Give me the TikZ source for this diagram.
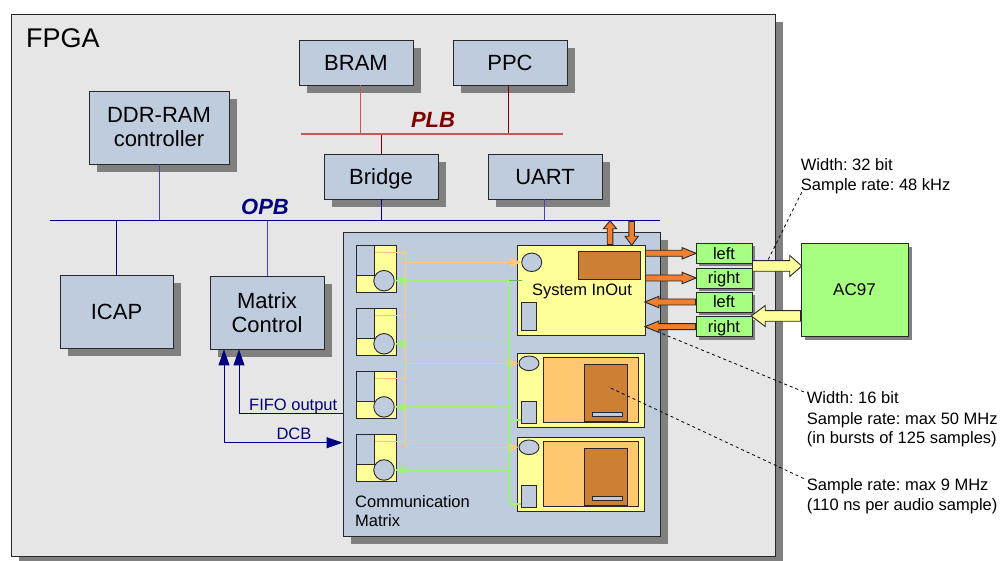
\documentclass[tikz,border=0pt]{standalone}
\usepackage{fontspec}
\setmainfont{Liberation Sans}
\usetikzlibrary{arrows.meta,shadows,calc,shapes.geometric}

\definecolor{fpgagray}{RGB}{230,230,230}
\definecolor{shadowgray}{RGB}{128,128,128}
\definecolor{boxblue}{RGB}{191,204,221}
\definecolor{edgegray}{RGB}{40,40,40}
\definecolor{paleyellow}{RGB}{255,255,153}
\definecolor{lightorange}{RGB}{255,200,112}
\definecolor{darkorange}{RGB}{205,128,52}
\definecolor{arroworange}{RGB}{240,128,48}
\definecolor{limegreen}{RGB}{166,255,128}
\definecolor{linegreen}{RGB}{160,240,128}
\definecolor{stubgreen}{RGB}{100,190,80}
\definecolor{lineorange}{RGB}{255,200,128}
\definecolor{opbnavy}{RGB}{0,0,128}
\definecolor{opbconn}{RGB}{70,70,170}
\definecolor{plbred}{RGB}{192,90,90}
\definecolor{plbdark}{RGB}{128,0,0}

% fat outlined arrow: style, tail point, angle, length, half shaft, half head, head length
\newcommand\fatarrow[7]{%
  \begin{scope}[shift={#2},rotate=#3]
    \draw[#1] (0,-#5) -- ({#4-#7},-#5) -- ({#4-#7},-#6) -- (#4,0) -- ({#4-#7},#6) -- ({#4-#7},#5) -- (0,#5) -- cycle;
  \end{scope}}

\frenchspacing
\begin{document}
\begin{tikzpicture}[x=1pt,y=-1pt,
  shd/.style={drop shadow={shadow xshift=#1pt,shadow yshift=-#1pt,fill=shadowgray,opacity=1}},
  fpgabox/.style={draw=edgegray,line width=0.9,fill=fpgagray,inner sep=0,shd=8},
  blk/.style={draw=edgegray,line width=0.9,fill=boxblue,inner sep=0,align=center,font=\fontsize{22}{24}\selectfont,shd=8},
  blkone/.style={blk,text height=15.8,text depth=0},
  yel/.style={draw=edgegray,line width=0.9,fill=paleyellow,inner sep=0},
  lor/.style={draw=edgegray,line width=0.9,fill=lightorange,inner sep=0},
  dor/.style={draw=edgegray,line width=0.9,fill=darkorange,inner sep=0},
  bbox/.style={draw=edgegray,line width=0.9,fill=boxblue,inner sep=0},
  lr/.style={draw=edgegray,line width=0.9,fill=limegreen,inner sep=0,minimum width=56,minimum height=20,font=\fontsize{16.5}{20}\selectfont,text height=12,text depth=0,shd=3},
  smalltxt/.style={font=\fontsize{16.5}{20}\selectfont,inner sep=0},
  dashline/.style={draw=black,line width=0.8,dash pattern=on 3pt off 3pt},
  orline/.style={draw=lineorange,line width=1.3},
  grline/.style={draw=linegreen,line width=1.3},
  orangearr/.style={orline,-{Triangle[length=11pt,width=9.5pt]}},
  greenarr/.style={grline,-{Triangle[length=10.5pt,width=9pt]}},
  navyline/.style={draw=opbnavy,line width=1},
  yelarrow/.style={draw=edgegray,line width=0.9,fill=paleyellow},
  orarrow/.style={draw=edgegray,line width=0.9,fill=arroworange},
  plbconn/.style={draw=plbred,line width=1},
  opbc/.style={draw=opbconn,line width=1}
]
\useasboundingbox (0,0) rectangle (1005,561);

% FPGA container
\node[fpgabox,minimum width=764,minimum height=542] (fpga) at (393,285) {};
\node[anchor=base west,inner sep=0,font=\fontsize{27}{30}\selectfont] (fpgalbl) at (26,47.5) {FPGA};

% blocks
\node[blkone,minimum width=114,minimum height=45] (bram) at (356,62.5) {BRAM};
\node[blkone,minimum width=114,minimum height=45] (ppc) at (510,62.5) {PPC};
\node[blkone,minimum width=114,minimum height=45] (bridge) at (381,176.5) {Bridge};
\node[blkone,minimum width=114,minimum height=45] (uart) at (545,176.5) {UART};
\node[blk,minimum width=140,minimum height=73] (ddr) at (159,127.5) {DDR-RAM\\controller};
\node[blkone,minimum width=113,minimum height=73] (icap) at (116.5,311.5) {ICAP};
\node[blk,minimum width=114,minimum height=73] (mctrl) at (267,312.5) {Matrix\\Control};

% PLB bus
\coordinate (plbL) at (301,134);
\coordinate (plbR) at (563,134);
\draw[plbconn] ([xshift=4pt]bram.south) -- ([xshift=4pt]bram.south |- plbL);
\draw[draw=plbdark,line width=1] ([xshift=-2pt]ppc.south) -- ([xshift=-2pt]ppc.south |- plbL);
\draw[draw=plbdark,line width=1] (bridge.north) -- (bridge.north |- plbL);
\draw[draw=plbred,line width=1.3] (plbL) -- (plbR);
\node[anchor=base,inner sep=0,text=plbdark,font=\fontsize{22}{24}\selectfont\bfseries\itshape] (plb) at (433,127.5) {PLB};

% OPB bus
\coordinate (opbL) at (50,220.5);
\coordinate (opbR) at (660,220.5);
\draw[opbc] (ddr.south) -- (ddr.south |- opbL);
\draw[draw=opbnavy,line width=1] (bridge.south) -- (bridge.south |- opbL);
\draw[opbc] ([xshift=-1pt]uart.south) -- ([xshift=-1pt]uart.south |- opbL);
\draw[draw=opbnavy,line width=1] (icap.north) -- (icap.north |- opbL);
\draw[opbc] (mctrl.north) -- (mctrl.north |- opbL);
\draw[draw=opbnavy,line width=1.3] (opbL) -- (opbR);
\node[anchor=base,inner sep=0,text=opbnavy,font=\fontsize{22}{24}\selectfont\bfseries\itshape] (opb) at (265,215) {OPB};

% Communication matrix
\node[blk,minimum width=317,minimum height=304] (comm) at (501.5,384) {};
\node[smalltxt,anchor=base west,align=left,font=\fontsize{16.5}{19.4}\selectfont] (commlbl) at (355,526.7) {Communication\\Matrix};

% System InOut
\node[yel,minimum width=128,minimum height=90] (sysio) at (581,290) {};
\node[ellipse,draw=edgegray,line width=0.9,fill=boxblue,minimum width=20,minimum height=18.5,inner sep=0] (sysc) at (531.7,262.3) {};
\node[dor,minimum width=61.3,minimum height=27.6] (sysor) at (609.35,265.5) {};
\node[bbox,minimum width=15,minimum height=28] (sysb) at (529.2,316.7) {};
\node[smalltxt,anchor=base] (sysiolbl) at (582,296) {System InOut};

% processing units
\foreach \i/\t in {1/352.7,2/436.7}{
  \node[yel,anchor=north west,minimum width=127,minimum height=74] (pu\i) at (517.3,\t) {};
  \node[lor,anchor=north west,minimum width=95,minimum height=65.6] (pul\i) at (543.3,\t+4) {};
  \node[dor,anchor=north west,minimum width=43.3,minimum height=57] (pud\i) at (584,\t+11.6) {};
  \node[bbox,anchor=north west,minimum width=30,minimum height=4] (pubar\i) at (592.3,\t+59.3) {};
  \node[ellipse,draw=edgegray,line width=0.9,fill=boxblue,minimum width=20,minimum height=14.6,inner sep=0] (pue\i) at (529,\t+10.6) {};
  \node[bbox,anchor=north west,minimum width=15,minimum height=22] (pub\i) at (520.7,\t+48) {};
}

% FIFO units
\coordinate (obus) at (405.7,0);
\coordinate (gbus) at (509,0);
\foreach \i/\t in {1/244.7,2/307.8,3/370.9,4/434.0}{
  \node[yel,anchor=north west,minimum width=40,minimum height=47.3] (u\i) at (355.7,\t) {};
  \node[bbox,anchor=north west,minimum width=18.6,minimum height=30.3] (ub\i) at (355.7,\t) {};
  \node[circle,draw=edgegray,line width=0.9,fill=boxblue,minimum size=20.5,inner sep=0] (uc\i) at (384,\t+36) {};
  \coordinate (uo\i) at ($(ub\i.north east)+(0,7.6)$);
  \draw[orline] (uo\i) -- (uo\i -| obus);
}

% orange (data in) bus
\draw[orline] (obus |- uo1) -- (obus |- pue2);
\draw[orangearr] (obus |- sysc) -- (sysc.west);
\draw[orangearr] (obus |- pue1) -- (pue1.west);
\draw[orangearr] (obus |- pue2) -- (pue2.west);

% green (data out) bus
\coordinate (gstart) at (521.7,280.7);
\coordinate (g1) at ($(pub1.south west)+(0,-3.7)$);
\coordinate (g2) at ($(pub2.south west)+(0,-3.7)$);
\draw[grline] (gbus |- gstart) -- (gbus |- g2);
\draw[greenarr] (gstart |- uc1) -- (uc1.east);
\draw[draw=stubgreen,line width=1.5] (gbus |- gstart) -- (gstart);
\foreach \i in {2,3,4}{
  \draw[greenarr] (gbus |- uc\i) -- (uc\i.east);
}
\draw[grline] (gbus |- g1) -- (g1);
\draw[grline] (gbus |- g2) -- (g2);

% FIFO output / DCB
\coordinate (fifo) at (239,414);
\coordinate (dcb) at (224,442.7);
\draw[navyline,-{Triangle[length=16pt,width=11pt]}] (comm.west |- fifo) -| (fifo |- mctrl.south);
\draw[navyline,{Triangle[length=16pt,width=11pt]}-{Triangle[length=16pt,width=11pt]}] (dcb |- mctrl.south) |- (comm.west |- dcb);
\node[smalltxt,text=opbnavy,anchor=base west] (fifolbl) at (249,410.5) {FIFO output};
\node[smalltxt,text=opbnavy,anchor=base] (dcblbl) at (294,439) {DCB};

% AC97 and channel boxes
\node[draw=edgegray,line width=0.9,fill=limegreen,minimum width=107,minimum height=93,inner sep=0,shd=4,font=\fontsize{17}{20}\selectfont,text height=12.2,text depth=0] (ac97) at (854.5,289.5) {AC97};
\node[lr] (lo1) at (724,253.3) {left};
\node[lr] (ro1) at (724,278) {right};
\node[lr] (li1) at (724,302) {left};
\node[lr] (ri1) at (724,326.7) {right};

% annotations (base anchor = last line)
\node[smalltxt,anchor=base west,align=left] (ann1) at (800.7,190.7) {Width: 32 bit\\Sample rate: 48 kHz};
\node[smalltxt,anchor=base west,align=left] (ann2) at (806.7,444) {Width: 16 bit\\Sample rate: max 50 MHz\\(in bursts of 125 samples)};
\node[smalltxt,anchor=base west,align=left] (ann3) at (806.7,510.7) {Sample rate: max 9 MHz\\(110 ns per audio sample)};
\coordinate (d1) at (766,264);
\coordinate (d2) at (646,327);
\coordinate (d3) at (608,386.8);
\draw[dashline] ($(ann1.south west)+(1,-2)$) -- (d1);
\draw[dashline] ($(ann2.north west)+(-3,0)$) -- (d2);
\draw[dashline] ($(ann3.north west)+(-3,0)$) -- (d3);

% fat arrows
\fatarrow{yelarrow}{(lo1.east |- 0,266)}{0}{49.3}{5.3}{10.5}{12}
\fatarrow{yelarrow}{(ac97.west |- 0,316)}{180}{49.3}{5.3}{10.5}{14}
\fatarrow{orarrow}{(sysio.east |- lo1)}{0}{50.7}{3}{5.7}{14}
\fatarrow{orarrow}{(sysio.east |- ro1)}{0}{50.7}{3}{5.7}{14}
\fatarrow{orarrow}{(li1.west)}{180}{50.7}{3}{5.7}{14}
\fatarrow{orarrow}{(ri1.west)}{180}{50.7}{3}{5.7}{14}
\fatarrow{orarrow}{(sysio.north -| 610,0)}{90}{23.8}{2.8}{6.6}{8}
\fatarrow{orarrow}{(631.7,221.5)}{-90}{23.8}{2.8}{6.6}{9}
\end{tikzpicture}
\end{document}
